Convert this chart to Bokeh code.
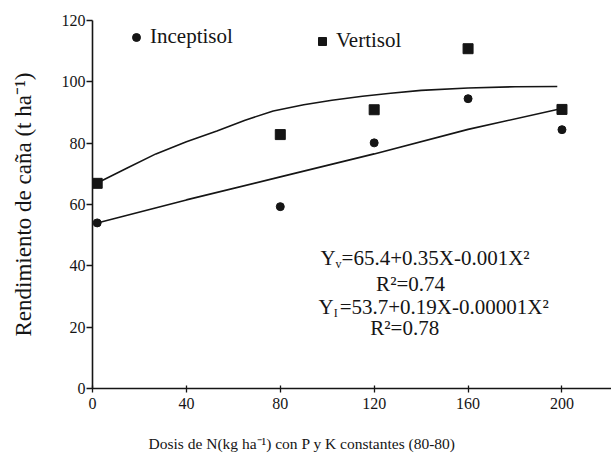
from bokeh.plotting import figure
from bokeh.models import Legend, LegendItem, Label, Range1d, FixedTicker, Title
from bokeh.embed import file_html
from bokeh.resources import INLINE

# ---- data ----
dose = [2, 80, 120, 160, 200]
inceptisol = [54.0, 59.3, 80.1, 94.5, 84.4]
vertisol = [66.9, 82.8, 90.9, 110.8, 91.0]

# fitted curves
vert_fit_x = [2, 15, 27, 40, 53, 65, 77, 90, 102, 115, 127, 140, 160, 180, 198]
vert_fit_y = [67, 72, 76.5, 80.5, 84, 87.5, 90.5, 92.5, 94, 95.3, 96.3, 97.2, 98, 98.4, 98.5]
inc_fit_x = [2, 40, 80, 120, 160, 198]
inc_fit_y = [54, 61.5, 69, 76.5, 84.5, 91]

x_ticks = [0, 40, 80, 120, 160, 200]
y_ticks = [0, 20, 40, 60, 80, 100, 120]

x_label = "Dosis de N(kg ha\u207b\u00b9) con P y K constantes (80-80)"
y_label = "Rendimiento de ca\u00f1a (t ha\u207b\u00b9)"

FONT = "Liberation Serif"
INK = "#151515"

p = figure(width=611, height=465, output_backend="svg", toolbar_location=None,
           x_range=Range1d(0, 221.1), y_range=Range1d(0, 120),
           min_border_left=92, min_border_right=0, min_border_top=20, min_border_bottom=77)
p.outline_line_color = None
p.xgrid.grid_line_color = None
p.ygrid.grid_line_color = None
p.background_fill_color = "white"

for ax in (p.xaxis[0], p.yaxis[0]):
    ax.axis_line_color = INK
    ax.axis_line_width = 1.6
    ax.major_tick_line_color = INK
    ax.major_tick_line_width = 1.3
    ax.minor_tick_line_color = None
    ax.major_label_text_font = FONT
    ax.major_label_text_font_size = "16px"
    ax.major_label_text_color = INK
    ax.axis_label_text_font = FONT
    ax.axis_label_text_font_style = "normal"
    ax.axis_label_text_color = INK

p.xaxis.ticker = FixedTicker(ticks=x_ticks)
p.yaxis.ticker = FixedTicker(ticks=y_ticks)
p.xaxis.major_tick_in = 3
p.xaxis.major_tick_out = 4
p.yaxis.major_tick_in = 0
p.yaxis.major_tick_out = 6
p.xaxis.major_label_standoff = 5
p.yaxis.major_label_standoff = 1
p.yaxis.axis_label = y_label
p.yaxis.axis_label_text_font_size = "23px"
p.yaxis.axis_label_standoff = 23

# small spacer so the x title sits lower, as in the reference
p.add_layout(Title(text=" ", standoff=0, text_font=FONT, text_font_size="8px"), "below")
# x-axis title, placed like the reference (left of the frame centre)
p.add_layout(Title(text=x_label, align="left", offset=56, standoff=20,
                   text_font=FONT, text_font_size="15.5px", text_font_style="normal",
                   text_color=INK), "below")

p.line(vert_fit_x, vert_fit_y, line_color=INK, line_width=1.6)
p.line(inc_fit_x, inc_fit_y, line_color=INK, line_width=1.6)
r1 = p.scatter(dose, inceptisol, marker="circle", size=8, color=INK)
r2 = p.scatter(dose, vertisol, marker="square", size=10, color=INK)

common = dict(padding=0, margin=0, border_line_color=None, background_fill_alpha=0,
              label_text_font=FONT, label_text_font_size="21px", label_text_color=INK,
              glyph_width=20, glyph_height=20, label_standoff=4)
leg1 = Legend(items=[LegendItem(label="Inceptisol", renderers=[r1])], location=(34, 339), **common)
leg2 = Legend(items=[LegendItem(label="Vertisol", renderers=[r2])], location=(220, 335), **common)
p.add_layout(leg1)
p.add_layout(leg2)

def eq(x, y, sub, rest, size=21):
    base = dict(text_font=FONT, text_color=INK, text_baseline="middle", text_align="left")
    p.add_layout(Label(x=x, y=y, text="Y", text_font_size=f"{size}px", **base))
    p.add_layout(Label(x=x, y=y, x_offset=0.72 * size, y_offset=-6, text=sub,
                       text_font_size="12px", **base))
    p.add_layout(Label(x=x, y=y, x_offset=0.72 * size + 6, text=rest,
                       text_font_size=f"{size}px", **base))

def r2lab(x, y, text, size=21):
    p.add_layout(Label(x=x, y=y, text=text, text_font=FONT, text_color=INK,
                       text_baseline="middle", text_align="center", text_font_size=f"{size}px"))

eq(97.1, 42.4, "v", "=65.4+0.35X-0.001X\u00b2")
r2lab(135.5, 34.2, "R\u00b2=0.74")
eq(96.3, 26.7, "I", "=53.7+0.19X-0.00001X\u00b2")
r2lab(133.0, 19.6, "R\u00b2=0.78")

open("out.html", "w").write(file_html(p, INLINE))
